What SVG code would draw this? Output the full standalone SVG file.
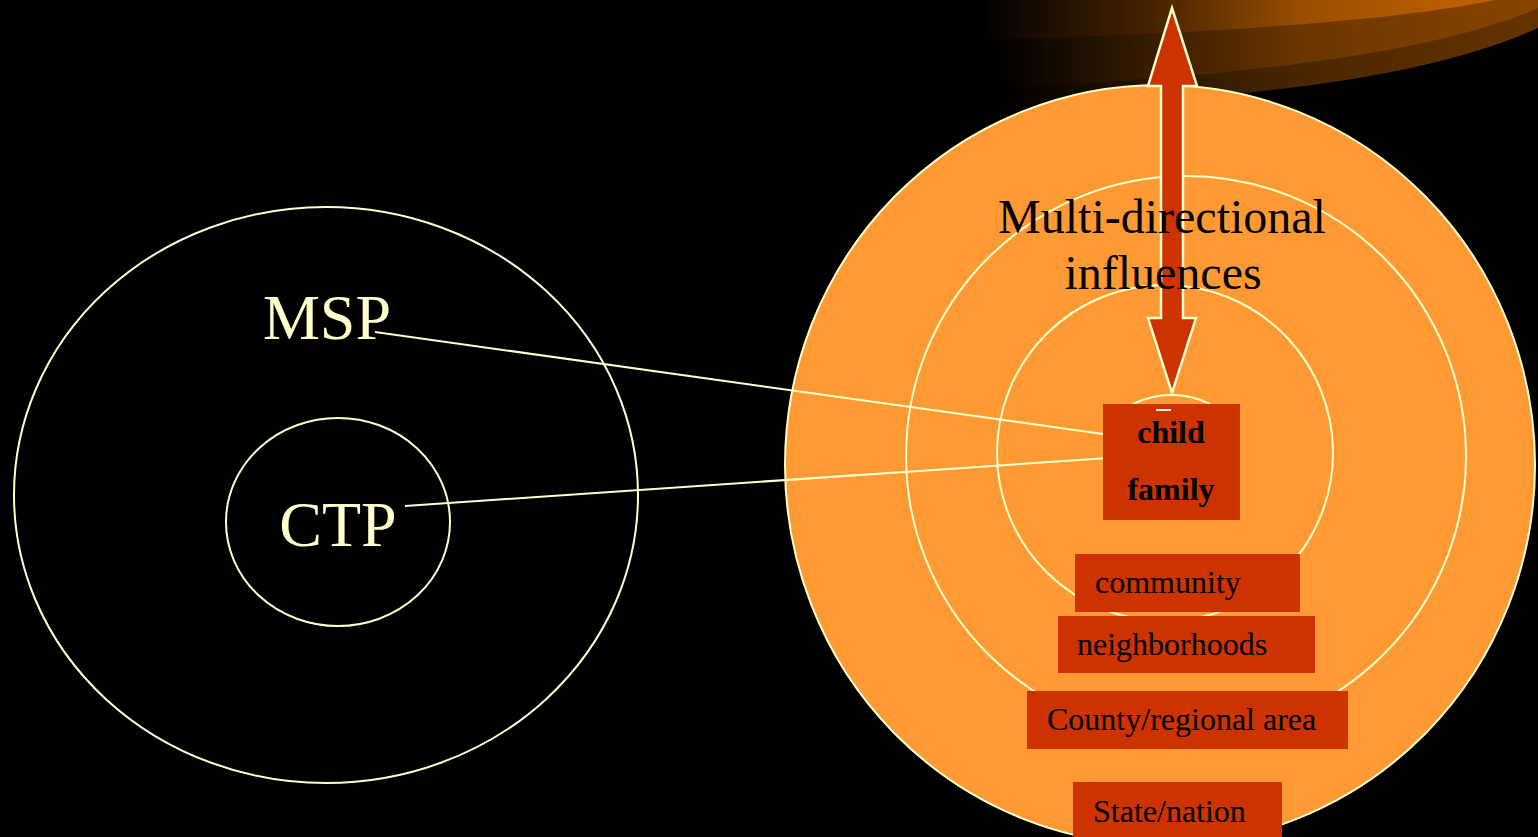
<svg xmlns="http://www.w3.org/2000/svg" width="1538" height="837" viewBox="0 0 1538 837">
<defs>
<linearGradient id="gA" gradientUnits="userSpaceOnUse" x1="975" y1="0" x2="1538" y2="0">
<stop offset="0" stop-color="#000000"/><stop offset="0.33" stop-color="#4a2500"/><stop offset="0.58" stop-color="#9a4e00"/><stop offset="0.85" stop-color="#bb5e00"/><stop offset="1" stop-color="#c06000"/>
</linearGradient>
<linearGradient id="gB" gradientUnits="userSpaceOnUse" x1="995" y1="0" x2="1538" y2="0">
<stop offset="0" stop-color="#000000"/><stop offset="0.3" stop-color="#3a1d00"/><stop offset="0.56" stop-color="#6a3500"/><stop offset="1" stop-color="#8a4500"/>
</linearGradient>
<linearGradient id="gC" gradientUnits="userSpaceOnUse" x1="1000" y1="0" x2="1538" y2="0">
<stop offset="0" stop-color="#000000"/><stop offset="0.3" stop-color="#2a1500"/><stop offset="0.56" stop-color="#4a2600"/><stop offset="1" stop-color="#663300"/>
</linearGradient>
<style>
.ring{fill:none;stroke:#ffffcc;stroke-width:2}
.orb{fill:#ff9933;stroke:#ffffcc;stroke-width:2}
.box{fill:#cc3300}
.lbl{font-family:"Liberation Serif","Times New Roman",serif;font-size:32px;fill:#000}
.bold{font-weight:bold}
.big{font-family:"Liberation Serif","Times New Roman",serif;font-size:64px;fill:#ffffcc}
.conn{stroke:#ffffcc;stroke-width:2;fill:none}
</style>
</defs>
<rect width="1538" height="837" fill="#000"/>
<g id="decor">
<path d="M1000,0 L1538,0 L1538,28 Q1380,100 1000,105 Z" fill="url(#gC)"/>
<path d="M995,0 L1538,0 L1538,8 Q1400,70 995,88 Z" fill="url(#gB)"/>
<path d="M975,0 L1495,0 Q1350,30 975,40 Z" fill="url(#gA)"/>
</g>
<g id="msp-ellipse"><ellipse class="ring" cx="326" cy="495" rx="312" ry="288"/></g>
<g id="ctp-ellipse"><ellipse class="ring" cx="338" cy="522" rx="112" ry="104"/></g>
<g id="rings">
<ellipse class="orb" cx="1160" cy="465" rx="375" ry="380"/>
<circle class="ring" cx="1186" cy="456" r="280"/>
<circle class="ring" cx="1165" cy="453" r="168"/>
<path class="ring" d="M1133,404 A87,87 0 0 1 1210,404"/>
</g>
<g id="arrow">
<path d="M1172,8 L1197,86 L1183,86 L1183,318 L1196,318 L1172,393 L1148,318 L1161,318 L1161,86 L1148,86 Z" fill="#cc3300" stroke="#ffffcc" stroke-width="2.5" stroke-linejoin="miter"/>
</g>
<g id="connectors">
<line class="conn" x1="375" y1="332" x2="1103" y2="434"/>
<line class="conn" x1="405" y1="506" x2="1108" y2="458"/>
</g>
<g id="msp"><text class="big" x="327" y="339" text-anchor="middle">MSP</text></g>
<g id="ctp"><text class="big" x="338" y="546" text-anchor="middle">CTP</text></g>
<g id="title">
<text class="lbl" style="font-size:48px" x="1162" y="233" text-anchor="middle">Multi-directional</text>
<text class="lbl" style="font-size:48px" x="1163" y="289" text-anchor="middle">influences</text>
</g>
<g id="child-family">
<rect class="box" x="1103" y="404" width="137" height="116"/>
<line x1="1156" y1="410" x2="1171" y2="410" stroke="#ffffcc" stroke-width="2"/>
<text class="lbl bold" x="1171" y="443" text-anchor="middle">child</text>
<text class="lbl bold" x="1171" y="500" text-anchor="middle">family</text>
</g>
<g id="community">
<rect class="box" x="1075" y="554" width="225" height="58"/>
<text class="lbl" x="1095" y="593">community</text>
</g>
<g id="neighborhoods">
<rect class="box" x="1058" y="616" width="257" height="57"/>
<text class="lbl" x="1077" y="655">neighborhoods</text>
</g>
<g id="county">
<rect class="box" x="1027" y="691" width="321" height="58"/>
<text class="lbl" x="1047" y="730">County/regional area</text>
</g>
<g id="state">
<rect class="box" x="1073" y="782" width="209" height="60"/>
<text class="lbl" x="1093" y="822">State/nation</text>
</g>
</svg>
